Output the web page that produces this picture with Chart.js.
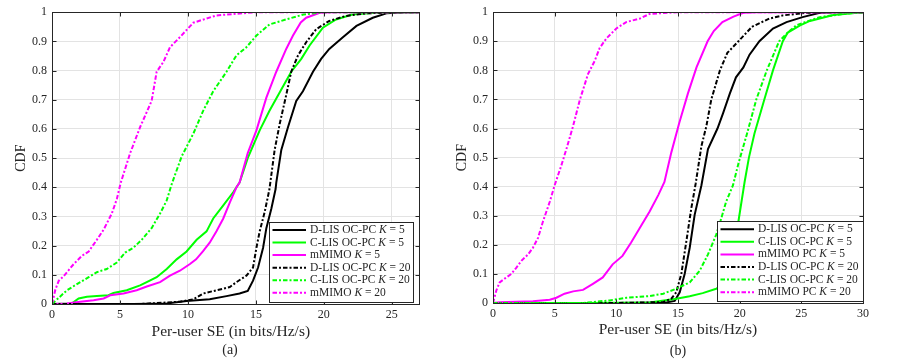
<!DOCTYPE html>
<html><head><meta charset="utf-8">
<script src="https://cdn.jsdelivr.net/npm/chart.js@4.4.0/dist/chart.umd.min.js"></script>
<style>
html,body{margin:0;padding:0;background:#fff;}
#wrap{position:relative;width:899px;height:360px;overflow:hidden;font-family:"Liberation Serif",serif;}
canvas{position:absolute;top:0;}
.cap{position:absolute;font-size:14px;color:#262626;transform:translate(-50%,-50%);white-space:nowrap;}
</style></head><body>
<div id="wrap">
<canvas id="ca" width="450" height="360" style="left:0;width:450px;height:360px"></canvas>
<canvas id="cb" width="449" height="360" style="left:450px;width:449px;height:360px"></canvas>
<div class="cap" style="left:230px;top:350px">(a)</div>
<div class="cap" style="left:678px;top:351px">(b)</div>
</div>
<script>
// ---------- tick labels ----------
const xTicksA = [0, 5, 10, 15, 20, 25];
const xTicksB = [0, 5, 10, 15, 20, 25, 30];
const yTicks = [0, 0.1, 0.2, 0.3, 0.4, 0.5, 0.6, 0.7, 0.8, 0.9, 1];
const yTickLabels = ['0', '0.1', '0.2', '0.3', '0.4', '0.5', '0.6', '0.7', '0.8', '0.9', '1'];
const xTitle = 'Per-user SE (in bits/Hz/s)';
const yTitle = 'CDF';

// ---------- legend names ----------
const namesA = ['D-LIS OC-PC', 'C-LIS OC-PC', 'mMIMO', 'D-LIS OC-PC', 'C-LIS OC-PC', 'mMIMO'];
const namesB = ['D-LIS OC-PC', 'C-LIS OC-PC', 'mMIMO PC', 'D-LIS OC-PC', 'C-LIS OC-PC', 'mMIMO PC'];
const kValues = [5, 5, 5, 20, 20, 20];

// ---------- panel (a) series: [SE, CDF] ----------
const aDlisK5 = [[0,0],[6,0],[8.44,0.002],[9.9,0.01],[11.6,0.016],[12.84,0.027],[13.8,0.036],[14.4,0.045],[14.79,0.08],[15.16,0.125],[15.53,0.193],[15.77,0.26],[16.14,0.327],[16.45,0.394],[16.5,0.416],[16.87,0.528],[17.36,0.606],[17.97,0.696],[18.46,0.729],[19.2,0.796],[19.8,0.84],[20.4,0.874],[21.4,0.914],[22.4,0.953],[23.6,0.981],[24.6,0.996],[26,1],[27,1]];
const aClisK5 = [[0,0],[1.47,0.002],[1.96,0.019],[2.57,0.025],[3.3,0.027],[4.16,0.03],[4.52,0.038],[5.5,0.047],[6.48,0.064],[6.97,0.075],[7.7,0.092],[8.44,0.12],[9.17,0.153],[9.9,0.18],[10.64,0.22],[11.37,0.249],[11.86,0.293],[12.6,0.338],[13.33,0.383],[13.8,0.416],[14.4,0.5],[15.28,0.595],[16.0,0.662],[16.87,0.735],[17.6,0.796],[18.34,0.84],[18.95,0.886],[19.93,0.947],[20.9,0.975],[22.1,0.992],[24.3,1],[27,1]];
const aMmimoK5 = [[0,0],[1.1,0.002],[2.08,0.008],[3.06,0.013],[3.8,0.019],[4.28,0.03],[5.26,0.036],[6.23,0.047],[6.97,0.06],[7.95,0.075],[8.68,0.097],[9.41,0.114],[10.15,0.137],[10.6,0.153],[11.1,0.18],[11.6,0.21],[12.1,0.249],[12.6,0.293],[13.1,0.35],[13.57,0.4],[13.8,0.416],[14.4,0.517],[15.04,0.595],[15.77,0.707],[16.5,0.796],[17.24,0.875],[17.73,0.92],[18.3,0.965],[18.7,0.981],[19.7,0.998],[20.7,1],[27,1]];
const aDlisK20 = [[0,0],[6.48,0],[9.41,0.008],[10.4,0.016],[11.12,0.036],[12.1,0.047],[13.08,0.058],[13.57,0.075],[14.3,0.097],[14.79,0.125],[15.04,0.193],[15.28,0.249],[15.65,0.316],[16.0,0.394],[16.06,0.416],[16.38,0.528],[16.75,0.617],[17.24,0.718],[17.6,0.796],[18.1,0.852],[18.7,0.897],[19.44,0.942],[20.4,0.97],[21.6,0.987],[23.1,0.996],[25.5,1],[27,1]];
const aClisK20 = [[0,0],[1.1,0.047],[2.08,0.075],[2.7,0.092],[3.3,0.109],[4.03,0.12],[4.77,0.142],[5.38,0.176],[5.99,0.193],[6.6,0.22],[7.33,0.26],[7.95,0.31],[8.44,0.355],[8.8,0.41],[9.54,0.506],[10.4,0.584],[11.12,0.662],[11.86,0.729],[12.84,0.796],[13.57,0.852],[14.3,0.88],[15.04,0.92],[16.0,0.958],[17.2,0.975],[18.5,0.992],[19.9,1],[27,1]];
const aMmimoK20 = [[0,0],[0.25,0.05],[0.5,0.08],[0.85,0.095],[1.6,0.137],[2.2,0.165],[2.7,0.18],[3.3,0.22],[3.8,0.255],[4.4,0.31],[4.77,0.36],[5.06,0.416],[5.75,0.517],[6.48,0.606],[7.33,0.696],[7.7,0.796],[8.2,0.83],[8.68,0.88],[9.4,0.914],[10.4,0.964],[12.1,0.989],[15,1],[27,1]];

// ---------- panel (b) series ----------
const bDlisK5 = [[0,0],[10,0],[14.05,0.002],[14.73,0.007],[15.14,0.037],[15.54,0.1],[15.95,0.19],[16.35,0.303],[16.9,0.405],[17.43,0.529],[18.2,0.6],[18.65,0.652],[19.2,0.72],[19.7,0.776],[20.3,0.81],[20.8,0.854],[21.6,0.9],[22.7,0.944],[23.8,0.966],[25.1,0.983],[26.5,0.998],[27.6,1],[30,1]];
const bClisK5 = [[0,0],[7.3,0],[12.7,0.002],[14.86,0.015],[15.95,0.023],[17.0,0.034],[18.1,0.049],[18.9,0.066],[19.46,0.1],[19.7,0.19],[19.86,0.27],[20.4,0.416],[20.75,0.5],[21.2,0.583],[22.0,0.7],[22.7,0.8],[23.5,0.9],[23.9,0.93],[24.9,0.955],[25.7,0.97],[27.6,0.99],[30,1]];
const bMmimoK5 = [[0,0],[0.54,0.003],[3.24,0.006],[4.6,0.011],[5.14,0.018],[5.8,0.032],[6.5,0.04],[7.3,0.045],[8.1,0.066],[8.9,0.088],[9.7,0.133],[10.5,0.162],[11.2,0.208],[11.9,0.258],[12.7,0.315],[13.4,0.371],[13.9,0.416],[14.46,0.518],[15.1,0.619],[15.8,0.72],[16.5,0.81],[17.4,0.9],[17.9,0.935],[18.6,0.966],[19.5,0.985],[20.3,0.998],[21.4,1],[30,1]];
const bDlisK20 = [[0,0],[10,0],[13.8,0.003],[14.46,0.015],[14.86,0.037],[15.27,0.1],[15.68,0.213],[16.08,0.326],[16.43,0.41],[16.9,0.54],[17.3,0.608],[17.7,0.7],[18.4,0.8],[19.0,0.86],[19.9,0.9],[21.0,0.95],[22.4,0.978],[23.5,0.989],[25.4,0.998],[27,1],[30,1]];
const bClisK20 = [[0,0],[7.3,0],[9.46,0.009],[10.8,0.018],[12.7,0.024],[13.8,0.032],[14.86,0.049],[15.95,0.071],[16.76,0.111],[17.43,0.167],[18.1,0.235],[18.5,0.29],[18.9,0.348],[19.46,0.405],[19.9,0.48],[20.6,0.583],[21.35,0.7],[22.2,0.8],[22.7,0.85],[23.2,0.9],[23.9,0.93],[24.6,0.955],[25.3,0.966],[26.5,0.983],[28.4,0.994],[30,1]];
const bMmimoK20 = [[0,0],[0.27,0.043],[0.54,0.071],[1.08,0.088],[1.49,0.1],[1.9,0.122],[2.3,0.145],[2.84,0.167],[3.24,0.19],[3.65,0.224],[4.05,0.28],[4.6,0.348],[5.0,0.405],[5.54,0.473],[5.95,0.529],[6.49,0.608],[7.03,0.697],[7.7,0.787],[8.24,0.832],[8.65,0.877],[9.2,0.91],[10.0,0.944],[10.8,0.966],[11.9,0.978],[12.7,0.994],[14.9,1],[30,1]];

// ---------- styles ----------
const FONT = '"Liberation Serif", "Times New Roman", serif';
const TXT = '#262626';
const GRID = '#e3e3e3';
const colors = ['#000000', '#00ff00', '#ff00ff', '#000000', '#00ff00', '#ff00ff'];
const dashed = [false, false, false, true, true, true];
const DASHDOT = [4.5, 2, 2, 2];
const LW = 2;

function framePlugin(cfg) {
  const lg = cfg.legend;
  return {
    id: 'frame',
    afterDatasetsDraw(chart) {
      const {ctx, chartArea: a, scales} = chart;
      const L = Math.floor(a.left) + 0.5, R = Math.floor(a.right) + 0.5;
      const T = Math.floor(a.top) + 0.5, B = Math.floor(a.bottom) + 0.5;
      ctx.save();
      ctx.setLineDash([]);
      ctx.strokeStyle = TXT; ctx.lineWidth = 1;
      const tl = 4;
      ctx.beginPath();
      scales.x.ticks.forEach(t => {
        const px = Math.round(scales.x.getPixelForValue(t.value)) + 0.5;
        ctx.moveTo(px, B); ctx.lineTo(px, B - tl);
        ctx.moveTo(px, T); ctx.lineTo(px, T + tl);
      });
      scales.y.ticks.forEach(t => {
        const py = Math.round(scales.y.getPixelForValue(t.value)) + 0.5;
        ctx.moveTo(L, py); ctx.lineTo(L + tl, py);
        ctx.moveTo(R, py); ctx.lineTo(R - tl, py);
      });
      ctx.stroke();
      ctx.strokeRect(L, T, R - L, B - T);

      // x-axis title
      ctx.fillStyle = TXT;
      ctx.font = '15.5px ' + FONT;
      ctx.textAlign = 'center';
      ctx.textBaseline = 'middle';
      ctx.fillText(xTitle, (a.left + a.right) / 2 + cfg.xTitleDx, cfg.xTitleY);

      // legend
      const bx = Math.floor(a.right - lg.right - lg.width) + 0.5;
      const by = Math.floor(a.bottom - lg.bottom - lg.height) + 0.5;
      ctx.fillStyle = '#fff';
      ctx.fillRect(bx, by, lg.width, lg.height);
      ctx.strokeStyle = TXT; ctx.lineWidth = 1;
      ctx.strokeRect(bx, by, lg.width, lg.height);
      chart.data.datasets.forEach((ds, i) => {
        const cy = by + lg.row0 + i * lg.step;
        ctx.strokeStyle = ds.borderColor;
        ctx.lineWidth = ds.borderWidth;
        ctx.setLineDash(ds.borderDash || []);
        ctx.beginPath();
        ctx.moveTo(bx + 3, cy); ctx.lineTo(bx + 36.5, cy);
        ctx.stroke();
        ctx.setLineDash([]);
        ctx.fillStyle = TXT;
        ctx.textBaseline = 'middle';
        ctx.textAlign = 'left';
        let x = bx + 40.5;
        const fN = '11.5px ' + FONT, fI = 'italic 11.5px ' + FONT;
        const p1 = lg.names[i] + ' ', p2 = 'K', p3 = ' = ' + kValues[i];
        ctx.font = fN; ctx.fillText(p1, x, cy); x += ctx.measureText(p1).width;
        ctx.font = fI; ctx.fillText(p2, x, cy); x += ctx.measureText(p2).width;
        ctx.font = fN; ctx.fillText(p3, x, cy);
      });
      ctx.restore();
    }
  };
}

function makeChart(id, cfg) {
  const datasets = cfg.series.map((s, i) => ({
    label: cfg.names[i] + ' K = ' + kValues[i],
    data: s.map(p => ({x: p[0], y: p[1]})),
    borderColor: colors[i],
    backgroundColor: colors[i],
    borderWidth: LW,
    borderDash: dashed[i] ? DASHDOT : [],
    pointRadius: 0,
    fill: false,
    tension: 0,
    order: 6 - i
  }));
  return new Chart(document.getElementById(id), {
    type: 'line',
    data: {datasets},
    options: {
      responsive: false, animation: false, devicePixelRatio: 1,
      layout: {padding: {left: 0, right: cfg.padRight, top: cfg.padTop, bottom: 0}},
      plugins: {legend: {display: false}, tooltip: {enabled: false}, title: {display: false}},
      scales: {
        x: {
          type: 'linear', min: 0, max: cfg.xMax,
          afterBuildTicks: s => { s.ticks = cfg.xTicks.map(v => ({value: v})); },
          afterFit: s => { s.height = cfg.xAxisH; },
          grid: {color: GRID, lineWidth: 1, drawTicks: false, tickLength: 0},
          border: {display: false},
          ticks: {color: TXT, font: {family: FONT, size: 12}, padding: 4, maxRotation: 0, autoSkip: false,
                  callback: v => String(v)},
          title: {display: false}
        },
        y: {
          type: 'linear', min: 0, max: 1,
          afterBuildTicks: s => { s.ticks = yTicks.map(v => ({value: v})); },
          afterFit: s => { s.width = cfg.yAxisW; },
          grid: {color: GRID, lineWidth: 1, drawTicks: false, tickLength: 0},
          border: {display: false},
          ticks: {color: TXT, font: {family: FONT, size: 12}, padding: 5, autoSkip: false,
                  callback: (v, i) => yTickLabels[i]},
          title: {display: true, text: yTitle, color: TXT, font: {family: FONT, size: 14},
                  padding: {top: cfg.yTitlePadT, bottom: 0}}
        }
      }
    },
    plugins: [framePlugin(cfg)]
  });
}

makeChart('ca', {
  series: [aDlisK5, aClisK5, aMmimoK5, aDlisK20, aClisK20, aMmimoK20],
  names: namesA, xMax: 27, xTicks: xTicksA,
  padRight: 31, padTop: 6, xAxisH: 56, yAxisW: 52, yTitlePadT: 13,
  xTitleDx: -4.7, xTitleY: 332,
  legend: {names: namesA, right: 6, bottom: 1.5, width: 144, height: 80, row0: 7.5, step: 12.55}
});
makeChart('cb', {
  series: [bDlisK5, bClisK5, bMmimoK5, bDlisK20, bClisK20, bMmimoK20],
  names: namesB, xMax: 30, xTicks: xTicksB,
  padRight: 36, padTop: 7, xAxisH: 57, yAxisW: 43, yTitlePadT: 3.6,
  xTitleDx: 0, xTitleY: 330,
  legend: {names: namesB, right: 0, bottom: 1.5, width: 146, height: 80, row0: 7.7, step: 12.6}
});
</script>
</body></html>
